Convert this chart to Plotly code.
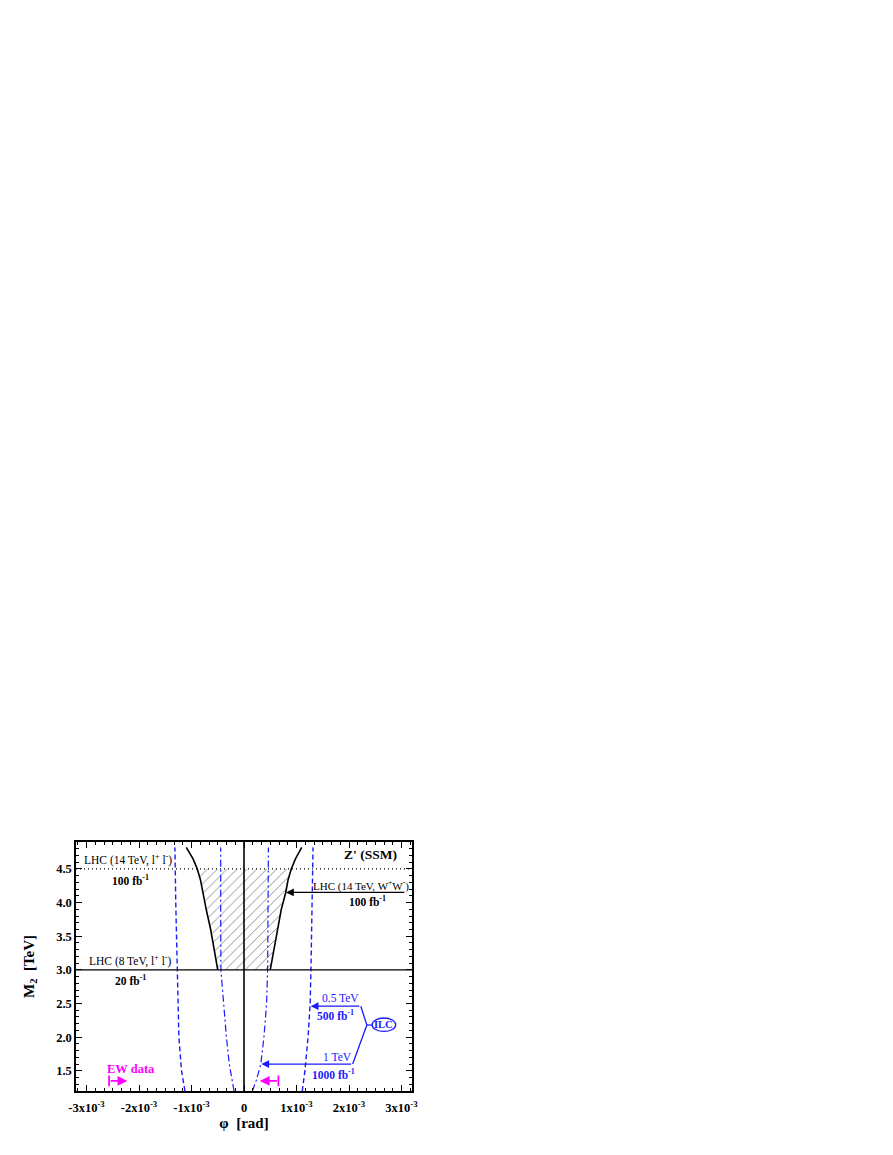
import numpy as np
import plotly.graph_objects as go

# phi values are read in units of 1e-3 rad
SCALE = 1e-3

# LHC (14 TeV, W+W-) exclusion boundary
ww_mass = [3.0, 3.3, 3.6, 3.9, 4.15, 4.34, 4.5, 4.65, 4.82]
ww_phi_right = [0.50, 0.57, 0.64, 0.71, 0.795, 0.84, 0.90, 0.98, 1.10]
ww_phi_left = [-0.50, -0.565, -0.635, -0.72, -0.79, -0.83, -0.89, -0.97, -1.10]

# ILC 0.5 TeV, 500 fb-1 (dashed)
ilc05_mass = [1.2, 1.5, 2.0, 2.5, 3.0, 4.0, 4.82]
ilc05_phi_right = [1.11, 1.16, 1.22, 1.26, 1.275, 1.30, 1.315]
ilc05_phi_left = [-1.125, -1.19, -1.24, -1.26, -1.27, -1.30, -1.316]

# ILC 1 TeV, 1000 fb-1 (dash-dot)
ilc1_mass = [1.2, 1.35, 1.5, 1.6, 2.0, 2.5, 3.0, 4.0, 4.82]
ilc1_phi_right = [0.16, 0.23, 0.285, 0.32, 0.38, 0.43, 0.45, 0.46, 0.465]
ilc1_phi_left = [-0.19, -0.225, -0.254, -0.28, -0.335, -0.39, -0.44, -0.444, -0.444]

LHC8_MASS = 3.0
LHC14_MASS = 4.5

x_ticks = [-3, -2, -1, 0, 1, 2, 3]
x_ticktext = ["-3x10<sup>-3</sup>", "-2x10<sup>-3</sup>", "-1x10<sup>-3</sup>", "0",
              "1x10<sup>-3</sup>", "2x10<sup>-3</sup>", "3x10<sup>-3</sup>"]

BLUE = "#1a1aff"
MAGENTA = "#ff00ff"
FONT = "Liberation Serif"


def sc(v):
    return np.asarray(v) * SCALE


fig = go.Figure()

# hatched allowed band between the W+W- curves, 3.0 < M2 < 4.5
m = np.array(ww_mass)
keep = m <= LHC14_MASS
hx = np.concatenate([sc(ww_phi_left)[keep], sc(ww_phi_right)[keep][::-1]])
hy = np.concatenate([m[keep], m[keep][::-1]])
fig.add_trace(go.Scatter(
    x=hx, y=hy, mode="lines", fill="toself", line=dict(width=0),
    fillcolor="rgba(0,0,0,0)",
    fillpattern=dict(shape="/", fgcolor="black", bgcolor="rgba(0,0,0,0)", size=7, solidity=0.12),
    hoverinfo="skip",
))

for xs in (ww_phi_left, ww_phi_right):
    fig.add_trace(go.Scatter(x=sc(xs), y=ww_mass, mode="lines",
                             line=dict(color="black", width=1.6)))

for xs in (ilc05_phi_left, ilc05_phi_right):
    fig.add_trace(go.Scatter(x=sc(xs), y=ilc05_mass, mode="lines",
                             line=dict(color=BLUE, width=1.4, dash="5px,3px")))

for xs in (ilc1_phi_left, ilc1_phi_right):
    fig.add_trace(go.Scatter(x=sc(xs), y=ilc1_mass, mode="lines",
                             line=dict(color=BLUE, width=1.2, dash="7px,3px,2px,3px")))

# reference lines
fig.add_shape(type="line", xref="paper", x0=0, x1=1, y0=LHC8_MASS, y1=LHC8_MASS,
              line=dict(color="black", width=1.3))
fig.add_shape(type="line", xref="paper", x0=0, x1=1, y0=LHC14_MASS, y1=LHC14_MASS,
              line=dict(color="black", width=1.1, dash="1px,3px"))
fig.add_shape(type="line", yref="paper", x0=0, x1=0, y0=0, y1=1,
              line=dict(color="black", width=1.6))

txt = dict(family=FONT, size=11.5, color="black")
bold = dict(family=FONT, size=11.5, color="black", weight="bold")

fig.add_annotation(x=-3.08e-3, y=4.64, text="LHC (14 TeV, l<sup>+</sup> l<sup>-</sup>)",
                   showarrow=False, xanchor="left", font=txt)
fig.add_annotation(x=-2.16e-3, y=4.34, text="100 fb<sup>-1</sup>", showarrow=False, font=bold)
fig.add_annotation(x=-2.99e-3, y=3.14, text="LHC (8 TeV, l<sup>+</sup> l<sup>-</sup>)",
                   showarrow=False, xanchor="left", font=txt)
fig.add_annotation(x=-2.16e-3, y=2.85, text="20 fb<sup>-1</sup>", showarrow=False, font=bold)
fig.add_annotation(x=2.96e-3, y=4.72, text="Z' (SSM)", showarrow=False, xanchor="right",
                   font=dict(family=FONT, size=13.5, color="black", weight="bold"))

# W+W- arrow
fig.add_annotation(x=0.80e-3, y=4.15, ax=3.08e-3, ay=4.15, axref="x", ayref="y",
                   text="", showarrow=True, arrowhead=2, arrowsize=1.2, arrowwidth=1.3,
                   arrowcolor="black")
fig.add_annotation(x=1.28e-3, y=4.26, text="LHC (14 TeV, W<sup>+</sup>W<sup>-</sup>)",
                   showarrow=False, xanchor="left",
                   font=dict(family=FONT, size=11, color="black"))
fig.add_annotation(x=2.36e-3, y=4.02, text="100 fb<sup>-1</sup>", showarrow=False, font=bold)

# ILC bracket
btxt = dict(family=FONT, size=11.5, color=BLUE)
bbold = dict(family=FONT, size=11.5, color=BLUE, weight="bold")
fig.add_annotation(x=1.27e-3, y=2.46, ax=2.225e-3, ay=2.46, axref="x", ayref="y",
                   text="", showarrow=True, arrowhead=2, arrowsize=1.2, arrowwidth=1.3,
                   arrowcolor=BLUE)
fig.add_annotation(x=0.33e-3, y=1.60, ax=2.07e-3, ay=1.60, axref="x", ayref="y",
                   text="", showarrow=True, arrowhead=2, arrowsize=1.2, arrowwidth=1.3,
                   arrowcolor=BLUE)
for x0, y0, x1, y1 in [(2.225e-3, 2.46, 2.34e-3, 2.18), (2.34e-3, 2.18, 2.07e-3, 1.60),
                       (2.34e-3, 2.18, 2.44e-3, 2.18)]:
    fig.add_shape(type="line", x0=x0, y0=y0, x1=x1, y1=y1, line=dict(color=BLUE, width=1.3))
fig.add_shape(type="circle", x0=2.44e-3, x1=2.89e-3, y0=2.085, y1=2.285,
              line=dict(color=BLUE, width=1.3))
fig.add_annotation(x=2.665e-3, y=2.185, text="ILC", showarrow=False,
                   font=dict(family=FONT, size=10.5, color=BLUE, weight="bold"))
fig.add_annotation(x=1.84e-3, y=2.58, text="0.5 TeV", showarrow=False, font=btxt)
fig.add_annotation(x=1.75e-3, y=2.33, text="500 fb<sup>-1</sup>", showarrow=False, font=bbold)
fig.add_annotation(x=1.78e-3, y=1.71, text="1 TeV", showarrow=False, font=btxt)
fig.add_annotation(x=1.71e-3, y=1.46, text="1000 fb<sup>-1</sup>", showarrow=False, font=bbold)

# EW data bounds
for xb, xt in [(-2.57e-3, -2.22e-3), (0.655e-3, 0.30e-3)]:
    fig.add_shape(type="line", x0=xb, x1=xb, y0=1.27, y1=1.43, line=dict(color=MAGENTA, width=1.8))
    fig.add_annotation(x=xt, y=1.35, ax=xb, ay=1.35, axref="x", ayref="y", text="",
                       showarrow=True, arrowhead=2, arrowsize=1.1, arrowwidth=1.8,
                       arrowcolor=MAGENTA)
fig.add_annotation(x=-2.15e-3, y=1.52, text="EW data", showarrow=False,
                   font=dict(family=FONT, size=12.5, color=MAGENTA, weight="bold"))

axis_common = dict(
    showline=True, linecolor="black", linewidth=1.5, mirror="allticks",
    ticks="inside", ticklen=6, tickwidth=1.2, tickcolor="black",
    showgrid=False, zeroline=False, automargin=False,
    tickfont=dict(family=FONT, size=12.5, color="black", weight="bold"),
)

fig.update_layout(
    width=893, height=1155,
    paper_bgcolor="white", plot_bgcolor="white",
    showlegend=False,
    # the page body adds an 8px offset, so margins are shifted to compensate
    margin=dict(l=68, r=489, t=834, b=72, autoexpand=False),
    xaxis=dict(
        range=[-3.2e-3, 3.2e-3],
        tickvals=sc(x_ticks), ticktext=x_ticktext,
        ticklabelstandoff=4,
        minor=dict(ticks="inside", ticklen=3, tickcolor="black", dtick=SCALE / 6, tick0=0),
        title=dict(text="φ  [rad]", standoff=3,
                   font=dict(family=FONT, size=15, color="black", weight="bold")),
        **axis_common,
    ),
    yaxis=dict(
        range=[1.2, 4.9], dtick=0.5, tick0=1.5, tickformat=".1f",
        minor=dict(ticks="inside", ticklen=3, tickcolor="black", dtick=0.1),
        title=dict(text="M<sub>2</sub>  [TeV]", standoff=18,
                   font=dict(family=FONT, size=15, color="black", weight="bold")),
        **axis_common,
    ),
)

fig.write_html("out.html")
